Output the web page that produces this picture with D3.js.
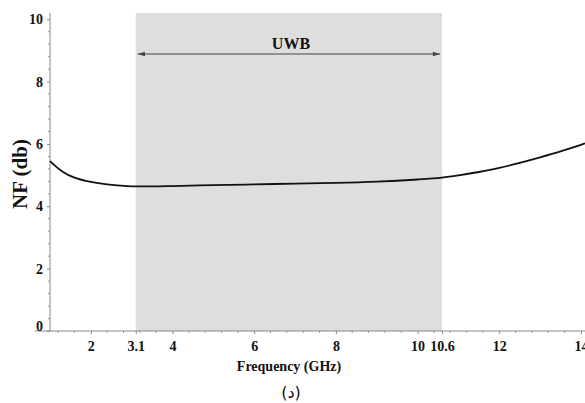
<!DOCTYPE html>
<html>
<head>
<meta charset="utf-8">
<script src="https://cdn.jsdelivr.net/npm/d3@7"></script>
<style>
  body { margin: 0; background: #fff; }
  svg { display: block; }
</style>
</head>
<body>
<div id="chart"></div>
<script>
// Noise figure vs frequency
const freq = [1.0, 1.3, 1.6, 2.0, 2.4, 2.9, 3.5, 4.0, 5.0, 6.0, 7.0, 8.0, 9.0, 10.0, 10.6, 11.0, 11.5, 12.0, 12.5, 13.0, 13.5, 14.0, 14.1];
const nf   = [5.45, 5.12, 4.92, 4.78, 4.70, 4.65, 4.64, 4.65, 4.68, 4.70, 4.73, 4.75, 4.79, 4.86, 4.92, 4.99, 5.10, 5.23, 5.39, 5.57, 5.76, 5.97, 6.02];

const xTicks = [2, 3.1, 4, 6, 8, 10, 10.6, 12, 14];
const yTicks = [0, 2, 4, 6, 8, 10];
const uwbBand = [3.1, 10.6];

const width = 585, height = 403;
const margin = { top: 13, right: 0, bottom: 71, left: 50 };
const serif = '"Liberation Serif", "Times New Roman", serif';

const svg = d3.select('#chart')
  .append('svg')
  .attr('width', width)
  .attr('height', height);

const x = d3.scaleLinear()
  .domain([1, 14.1])
  .range([margin.left, width - margin.right]);

const y = d3.scaleLinear()
  .domain([0, 10.2])
  .range([height - margin.bottom - 1, margin.top]);

// shaded UWB band
svg.append('rect')
  .attr('x', x(uwbBand[0]))
  .attr('y', margin.top)
  .attr('width', x(uwbBand[1]) - x(uwbBand[0]))
  .attr('height', y(0) - margin.top)
  .attr('fill', '#dedede');

// minor ticks
const minorX = d3.range(1.2, 14.1, 0.4).filter(v => !xTicks.some(t => Math.abs(t - v) < 0.05));
const minorY = d3.range(0.4, 10.2, 0.4).filter(v => !yTicks.some(t => Math.abs(t - v) < 0.05));

svg.append('g')
  .selectAll('line')
  .data(minorX)
  .join('line')
  .attr('x1', d => x(d)).attr('x2', d => x(d))
  .attr('y1', y(0)).attr('y2', y(0) + 2)
  .attr('stroke', '#999');

svg.append('g')
  .selectAll('line')
  .data(minorY)
  .join('line')
  .attr('x1', x(1) - 2).attr('x2', x(1))
  .attr('y1', d => y(d)).attr('y2', d => y(d))
  .attr('stroke', '#999');

function styleTicks(g) {
  g.select('.domain').remove();
  g.selectAll('.tick line').attr('stroke', '#888');
  g.selectAll('.tick text')
    .style('font-family', serif)
    .style('font-weight', 'bold')
    .style('font-size', '14px')
    .style('fill', '#111');
}

// axes
svg.append('g')
  .attr('transform', `translate(0,${y(0)})`)
  .call(d3.axisBottom(x).tickValues(xTicks).tickFormat(d => d).tickSize(3).tickPadding(7))
  .call(styleTicks);

svg.append('line')
  .attr('x1', 35).attr('x2', width)
  .attr('y1', y(0)).attr('y2', y(0))
  .attr('stroke', '#888');

const yAxis = svg.append('g')
  .attr('transform', `translate(${x(1)},0)`)
  .call(d3.axisLeft(y).tickValues(yTicks).tickFormat(d => d).tickSize(3).tickPadding(4))
  .call(styleTicks);
yAxis.selectAll('.tick').filter(d => d === 0).select('text').attr('dy', '-0.05em');

svg.append('line')
  .attr('x1', x(1)).attr('x2', x(1))
  .attr('y1', margin.top).attr('y2', y(0))
  .attr('stroke', '#888');

// UWB arrow
const defs = svg.append('defs');
defs.append('marker')
  .attr('id', 'arr')
  .attr('viewBox', '0 0 10 10')
  .attr('refX', 10).attr('refY', 5)
  .attr('markerWidth', 8).attr('markerHeight', 6)
  .attr('orient', 'auto-start-reverse')
  .append('path')
  .attr('d', 'M0,2 L10,5 L0,8 Z')
  .attr('fill', '#444');

svg.append('line')
  .attr('x1', x(uwbBand[0]) + 2).attr('x2', x(uwbBand[1]) - 2)
  .attr('y1', 54).attr('y2', 54)
  .attr('stroke', '#444')
  .attr('stroke-width', 1.2)
  .attr('marker-start', 'url(#arr)')
  .attr('marker-end', 'url(#arr)');

svg.append('text')
  .attr('x', x(6.9))
  .attr('y', 49)
  .attr('text-anchor', 'middle')
  .style('font-family', serif)
  .style('font-weight', 'bold')
  .style('font-size', '16px')
  .style('fill', '#111')
  .text('UWB');

// curve
const pts = freq.map((f, i) => [f, nf[i]]);
const line = d3.line()
  .x(d => x(d[0]))
  .y(d => y(d[1]))
  .curve(d3.curveCatmullRom);

svg.append('path')
  .datum(pts)
  .attr('fill', 'none')
  .attr('stroke', '#111')
  .attr('stroke-width', 1.8)
  .attr('d', line);

// labels
svg.append('text')
  .attr('transform', `translate(27,174) rotate(-90)`)
  .attr('text-anchor', 'middle')
  .style('font-family', serif)
  .style('font-weight', 'bold')
  .style('font-size', '21px')
  .style('fill', '#111')
  .text('NF (db)');

svg.append('text')
  .attr('x', 289)
  .attr('y', 371)
  .attr('text-anchor', 'middle')
  .style('font-family', serif)
  .style('font-weight', 'bold')
  .style('font-size', '14px')
  .style('fill', '#111')
  .text('Frequency (GHz)');

svg.append('text')
  .attr('x', 291)
  .attr('y', 398)
  .attr('text-anchor', 'middle')
  .style('font-family', '"DejaVu Sans", sans-serif')
  .style('font-size', '16px')
  .style('fill', '#111')
  .text('(د)');
</script>
</body>
</html>
